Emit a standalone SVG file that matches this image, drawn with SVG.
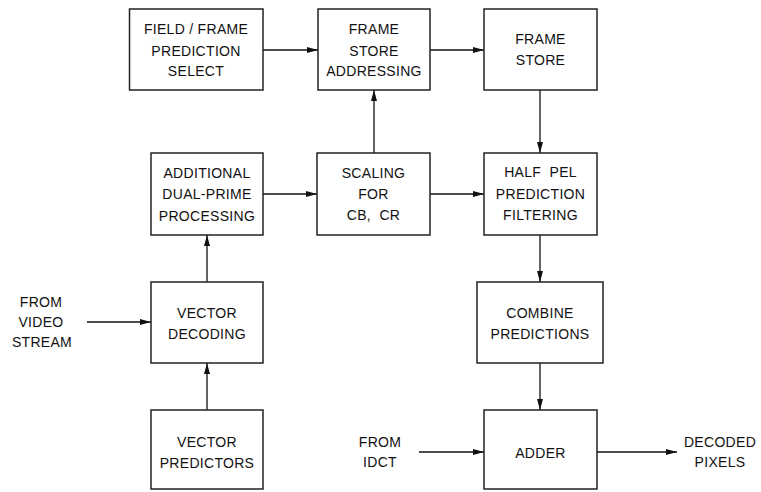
<svg xmlns="http://www.w3.org/2000/svg" width="761" height="492" viewBox="0 0 761 492">
<style>
.b{fill:#fff;stroke:#222;stroke-width:1.5}
.t{font-family:"Liberation Sans",Arial,sans-serif;font-size:14px;letter-spacing:0.3px;fill:#111;text-anchor:middle;white-space:pre}
.c{stroke:#111;stroke-width:1.3;fill:none;marker-end:url(#ah)}
</style>
<defs>
<marker id="ah" markerWidth="12" markerHeight="8" refX="11" refY="4" orient="auto" markerUnits="userSpaceOnUse">
<path d="M0,1 L11,4 L0,7 Z" fill="#111"/>
</marker>
</defs>
<g id="connectors">
<line class="c" x1="263" y1="50" x2="318" y2="50"/>
<line class="c" x1="430" y1="50" x2="484" y2="50"/>
<line class="c" x1="540" y1="90" x2="540" y2="153"/>
<line class="c" x1="374" y1="153" x2="374" y2="90"/>
<line class="c" x1="263" y1="194" x2="317" y2="194"/>
<line class="c" x1="430" y1="194" x2="484" y2="194"/>
<line class="c" x1="207" y1="282" x2="207" y2="235"/>
<line class="c" x1="207" y1="410" x2="207" y2="363"/>
<line class="c" x1="540" y1="235" x2="540" y2="282"/>
<line class="c" x1="540" y1="363" x2="540" y2="410"/>
<line class="c" x1="87" y1="322" x2="151" y2="322"/>
<line class="c" x1="419" y1="452" x2="484" y2="452"/>
<line class="c" x1="597" y1="452" x2="677" y2="452"/>
</g>
<g id="field_frame_select">
<rect class="b" x="129.5" y="9" width="133.5" height="81"/>
<text class="t" x="196" y="34">FIELD / FRAME</text>
<text class="t" x="196" y="55.5">PREDICTION</text>
<text class="t" x="196" y="76">SELECT</text>
</g>
<g id="frame_store_addressing">
<rect class="b" x="318" y="9" width="112" height="81"/>
<text class="t" x="374" y="34">FRAME</text>
<text class="t" x="374" y="55.5">STORE</text>
<text class="t" x="374" y="76">ADDRESSING</text>
</g>
<g id="frame_store">
<rect class="b" x="484" y="9" width="113" height="81"/>
<text class="t" x="540.5" y="44">FRAME</text>
<text class="t" x="540.5" y="65">STORE</text>
</g>
<g id="additional_dual_prime">
<rect class="b" x="151" y="153" width="112" height="82"/>
<text class="t" x="207" y="178">ADDITIONAL</text>
<text class="t" x="207" y="199">DUAL-PRIME</text>
<text class="t" x="207" y="220.5">PROCESSING</text>
</g>
<g id="scaling">
<rect class="b" x="317" y="153" width="113" height="82"/>
<text class="t" x="373.5" y="178">SCALING</text>
<text class="t" x="373.5" y="198.5">FOR</text>
<text class="t" x="373.5" y="220" xml:space="preserve">CB,  CR</text>
</g>
<g id="half_pel">
<rect class="b" x="484" y="153" width="113" height="82"/>
<text class="t" x="540.5" y="177" xml:space="preserve">HALF  PEL</text>
<text class="t" x="540.5" y="198.5">PREDICTION</text>
<text class="t" x="540.5" y="220">FILTERING</text>
</g>
<g id="vector_decoding">
<rect class="b" x="151" y="282" width="112" height="81"/>
<text class="t" x="207" y="318">VECTOR</text>
<text class="t" x="207" y="338.5">DECODING</text>
</g>
<g id="combine_predictions">
<rect class="b" x="477" y="282" width="126" height="81"/>
<text class="t" x="540" y="317.5">COMBINE</text>
<text class="t" x="540" y="339">PREDICTIONS</text>
</g>
<g id="vector_predictors">
<rect class="b" x="151" y="410" width="112" height="79"/>
<text class="t" x="207" y="447">VECTOR</text>
<text class="t" x="207" y="468">PREDICTORS</text>
</g>
<g id="adder">
<rect class="b" x="484" y="410" width="113" height="79"/>
<text class="t" x="540.5" y="458">ADDER</text>
</g>
<g id="from_video_stream">
<text class="t" x="41" y="307">FROM</text>
<text class="t" x="41" y="327">VIDEO</text>
<text class="t" x="42" y="347">STREAM</text>
</g>
<g id="from_idct">
<text class="t" x="380" y="447">FROM</text>
<text class="t" x="380" y="467">IDCT</text>
</g>
<g id="decoded_pixels">
<text class="t" x="720" y="447">DECODED</text>
<text class="t" x="720" y="467">PIXELS</text>
</g>
</svg>
